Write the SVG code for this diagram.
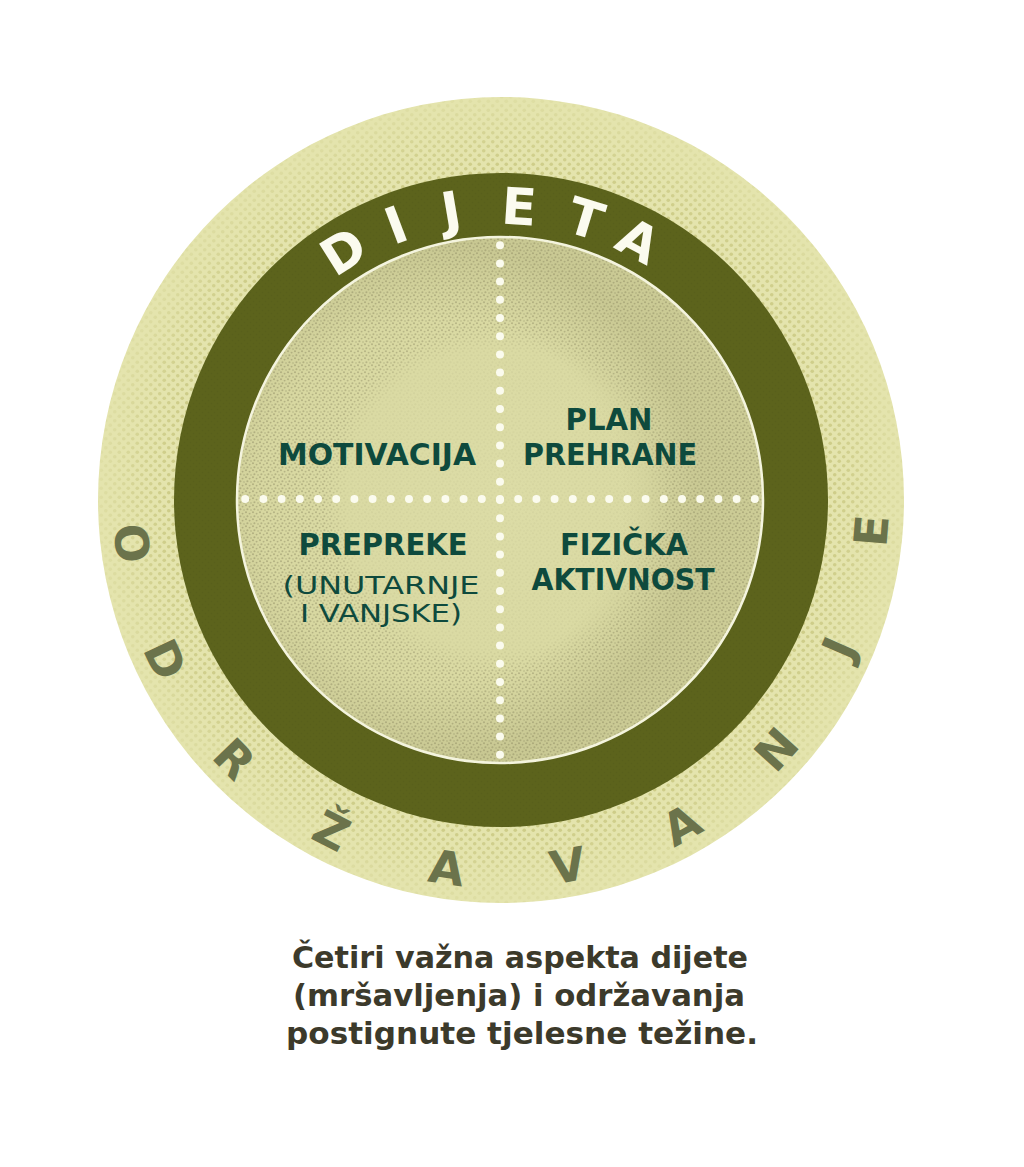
<svg xmlns="http://www.w3.org/2000/svg" width="1024" height="1167" viewBox="0 0 1024 1167">
<style>
.dij{font-family:"DejaVu Sans",sans-serif;font-weight:bold;font-size:51px;fill:#fbfbef;text-anchor:middle}
.odr{font-family:"DejaVu Sans",sans-serif;font-weight:bold;font-size:46px;fill:#6b734b;text-anchor:middle}
.lbl{font-family:"DejaVu Sans",sans-serif;font-weight:bold;font-size:31px;fill:#0e4a3d;text-anchor:middle}
.sub{font-family:"DejaVu Sans",sans-serif;font-weight:normal;font-size:24px;fill:#0e4a3d;text-anchor:middle}
.cap{font-family:"DejaVu Sans",sans-serif;font-weight:bold;font-size:31px;fill:#3c3a2b;text-anchor:middle}
.dots{fill:none;stroke:#fbfbee;stroke-width:8;stroke-linecap:round;stroke-dasharray:0 18.2}
</style>
<defs>
<pattern id="halftone" width="9" height="9" patternUnits="userSpaceOnUse">
<circle cx="2.25" cy="2.25" r="1.8" fill="#cccb86"/>
<circle cx="6.75" cy="6.75" r="1.8" fill="#cccb86"/>
</pattern>
<pattern id="stipple" width="7" height="7" patternUnits="userSpaceOnUse">
<circle cx="1" cy="1.2" r="1.05" fill="#a9a77a"/>
<circle cx="4.6" cy="2.6" r="0.95" fill="#a9a77a"/>
<circle cx="2.4" cy="5.2" r="1.05" fill="#a9a77a"/>
<circle cx="6" cy="6" r="0.8" fill="#a9a77a"/>
</pattern>
<pattern id="darkstip" width="6" height="6" patternUnits="userSpaceOnUse">
<circle cx="1.5" cy="1.5" r="1" fill="#50571a"/>
<circle cx="4.5" cy="4.5" r="1" fill="#50571a"/>
</pattern>
<radialGradient id="outerMaskG" gradientUnits="userSpaceOnUse" cx="501" cy="500" r="403">
<stop offset="0.81" stop-color="#fff" stop-opacity="1"/>
<stop offset="0.9" stop-color="#fff" stop-opacity="0.7"/>
<stop offset="1" stop-color="#fff" stop-opacity="0.2"/>
</radialGradient>
<mask id="outerMask" maskUnits="userSpaceOnUse" x="0" y="0" width="1024" height="1167">
<circle cx="501" cy="500" r="403" fill="url(#outerMaskG)"/>
</mask>
<radialGradient id="innerBase" gradientUnits="userSpaceOnUse" cx="497" cy="500" r="263">
<stop offset="0" stop-color="#dcdca6"/>
<stop offset="0.6" stop-color="#dadaa3"/>
<stop offset="1" stop-color="#d6d69f"/>
</radialGradient>
<radialGradient id="innerMaskG" gradientUnits="userSpaceOnUse" cx="497" cy="500" r="263">
<stop offset="0" stop-color="#fff" stop-opacity="0.1"/>
<stop offset="0.57" stop-color="#fff" stop-opacity="0.15"/>
<stop offset="0.66" stop-color="#fff" stop-opacity="0.7"/>
<stop offset="1" stop-color="#fff" stop-opacity="0.8"/>
</radialGradient>
<mask id="innerMask" maskUnits="userSpaceOnUse" x="0" y="0" width="1024" height="1167">
<circle cx="500" cy="500" r="263" fill="url(#innerMaskG)"/>
</mask>
<radialGradient id="rightShade" gradientUnits="userSpaceOnUse" cx="440" cy="500" r="330">
<stop offset="0.55" stop-color="#8d8b5c" stop-opacity="0"/>
<stop offset="0.78" stop-color="#8d8b5c" stop-opacity="0.2"/>
<stop offset="1" stop-color="#8d8b5c" stop-opacity="0.12"/>
</radialGradient>
</defs>
<rect width="1024" height="1167" fill="#ffffff"/>
<g id="outer-ring">
<circle cx="501" cy="500" r="403" fill="#e4e4ad"/>
<circle cx="501" cy="500" r="403" fill="url(#halftone)" mask="url(#outerMask)"/>
</g>
<g id="dark-ring">
<circle cx="501" cy="500" r="327" fill="#5c631c"/>
<circle cx="501" cy="500" r="327" fill="url(#darkstip)" opacity="0.3"/>
</g>
<g id="inner-circle">
<circle cx="500" cy="500" r="263" fill="url(#innerBase)"/>
<circle cx="500" cy="500" r="263" fill="url(#stipple)" mask="url(#innerMask)"/>
<circle cx="500" cy="500" r="262" fill="url(#rightShade)"/>
<circle cx="500" cy="500" r="263" fill="none" stroke="#f4f4de" stroke-width="2.5"/>
</g>
<g id="connectors">
<line class="dots" x1="500" y1="245.2" x2="500" y2="756"/>
<line class="dots" x1="245.2" y1="499" x2="756" y2="499"/>
</g>
<g id="dijeta-label">
<text class="dij" transform="translate(343.3,251.2) rotate(-32.2)" y="18">D</text>
<text class="dij" transform="translate(396.1,225.0) rotate(-20.7)" y="18">I</text>
<text class="dij" transform="translate(451.0,210.1) rotate(-9.6)" y="18">J</text>
<text class="dij" transform="translate(519.0,206.6) rotate(3.7)" y="18">E</text>
<text class="dij" transform="translate(585.5,218.7) rotate(16.9)" y="18">T</text>
<text class="dij" transform="translate(638.5,240.7) rotate(28.1)" y="18">A</text>
</g>
<g id="odrzavanje-label">
<text class="odr" transform="translate(131.5,543.4) rotate(83.3)" y="16">O</text>
<text class="odr" transform="translate(165.0,659.7) rotate(64.57)" y="16">D</text>
<text class="odr" transform="translate(234.1,759.1) rotate(45.84)" y="16">R</text>
<text class="odr" transform="translate(331.4,831.1) rotate(27.11)" y="16">Ž</text>
<text class="odr" transform="translate(446.8,868.0) rotate(8.38)" y="16">A</text>
<text class="odr" transform="translate(567.8,865.9) rotate(-10.35)" y="16">V</text>
<text class="odr" transform="translate(681.8,825.1) rotate(-29.08)" y="16">A</text>
<text class="odr" transform="translate(776.6,749.8) rotate(-47.81)" y="16">N</text>
<text class="odr" transform="translate(839.2,648.1) rotate(-66.54)" y="16">J</text>
<text class="odr" transform="translate(871.7,530.7) rotate(-85.27)" y="16">E</text>
</g>
<g id="node-motivacija">
<text class="lbl" x="377" y="465" textLength="198" lengthAdjust="spacingAndGlyphs">MOTIVACIJA</text>
</g>
<g id="node-plan-prehrane">
<text class="lbl" x="609" y="430" textLength="87" lengthAdjust="spacingAndGlyphs">PLAN</text>
<text class="lbl" x="610" y="465" textLength="174" lengthAdjust="spacingAndGlyphs">PREHRANE</text>
</g>
<g id="node-prepreke">
<text class="lbl" x="383" y="555" textLength="169" lengthAdjust="spacingAndGlyphs">PREPREKE</text>
<text class="sub" x="381" y="594" textLength="197" lengthAdjust="spacingAndGlyphs">(UNUTARNJE</text>
<text class="sub" x="381" y="622" textLength="162" lengthAdjust="spacingAndGlyphs">I VANJSKE)</text>
</g>
<g id="node-fizicka-aktivnost">
<text class="lbl" x="624" y="555" textLength="128" lengthAdjust="spacingAndGlyphs">FIZIČKA</text>
<text class="lbl" x="623" y="590" textLength="183" lengthAdjust="spacingAndGlyphs">AKTIVNOST</text>
</g>
<g id="caption">
<text class="cap" x="520" y="968" textLength="456" lengthAdjust="spacingAndGlyphs">Četiri važna aspekta dijete</text>
<text class="cap" x="519" y="1006" textLength="452" lengthAdjust="spacingAndGlyphs">(mršavljenja) i održavanja</text>
<text class="cap" x="522" y="1044" textLength="472" lengthAdjust="spacingAndGlyphs">postignute tjelesne težine.</text>
</g>
</svg>
